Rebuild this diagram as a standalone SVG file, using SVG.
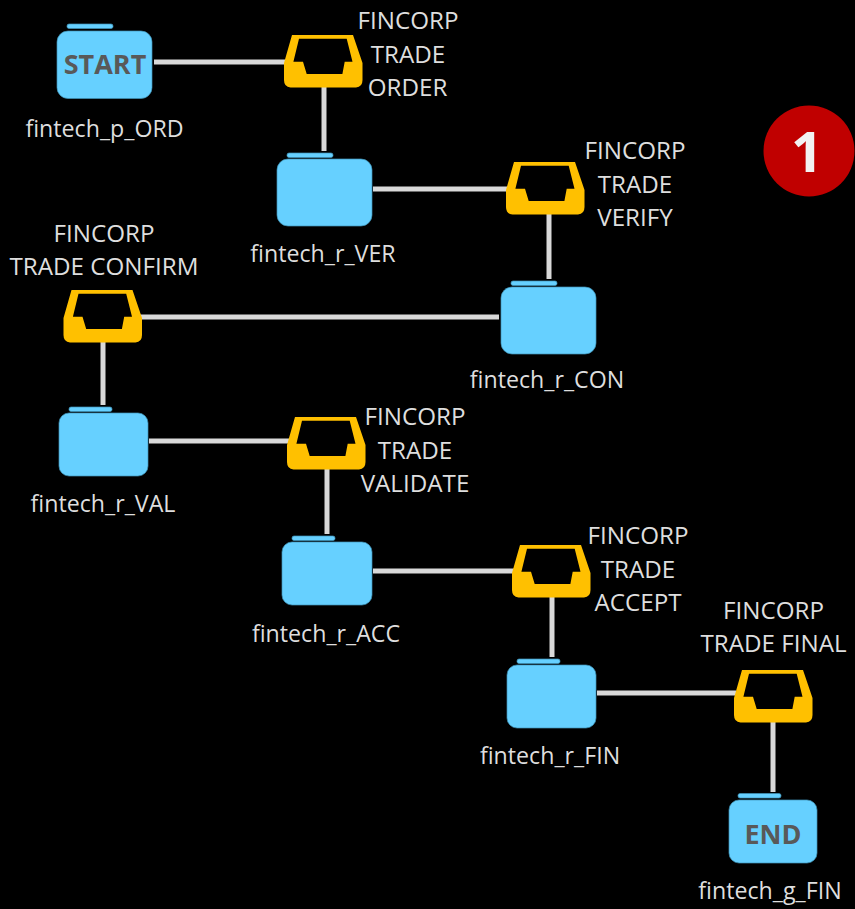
<svg xmlns="http://www.w3.org/2000/svg" width="855" height="909" viewBox="0 0 855 909">
<style>
text{font-family:"Open Sans","Noto Sans","Liberation Sans",sans-serif;text-anchor:middle}
.l{font-size:23.2px;fill:#dedede}
.u{font-size:24.2px;fill:#dedede}
.f{fill:#66d0ff;stroke:#3f93b8;stroke-width:.7}
.c line{stroke:#d9d9d9;stroke-width:5}
.t{font-size:27px;font-weight:700;fill:#595959}
</style>
<defs>
<path id="tray" fill="#ffc000" fill-rule="evenodd" d="M8 0H69L78.500 28V45Q78.500 52 72 52.500H6.500Q0 52 0 45V28ZM15 3.700L9.400 26.800H19L22.700 39H58.400L60.700 26.800H68.500L62.700 3.700Z"/>
</defs>
<rect width="855" height="909" fill="#000"/>
<g class="c" id="connectors">
<line x1="154" y1="62" x2="286" y2="62"/><line x1="324" y1="86" x2="324" y2="151"/>
<line x1="373" y1="189" x2="508" y2="189"/><line x1="549" y1="212" x2="549" y2="279"/>
<line x1="140" y1="317" x2="499" y2="317"/><line x1="103" y1="340" x2="103" y2="405"/>
<line x1="149" y1="441" x2="289" y2="441"/><line x1="327" y1="467" x2="327" y2="534"/>
<line x1="373" y1="571" x2="514" y2="571"/><line x1="552" y1="596" x2="552" y2="657"/>
<line x1="597" y1="693" x2="736" y2="693"/><line x1="773" y1="720" x2="773" y2="792"/>
</g>
<g id="start"><rect class="f" x="67" y="24" width="46" height="4.500" rx="2"/><rect class="f" x="57" y="31" width="95" height="67.500" rx="11"/><text class="t" x="105" y="74">START</text><text class="l" x="104.500" y="137">fintech_p_ORD</text></g>
<g id="tray-order"><use href="#tray" x="284" y="35"/><text class="u" x="408" y="29">FINCORP</text><text class="u" x="408" y="63">TRADE</text><text class="u" x="407.500" y="96">ORDER</text></g>
<g id="r-ver"><rect class="f" x="287" y="153" width="46" height="4.500" rx="2"/><rect class="f" x="277" y="159" width="95" height="67" rx="11"/><text class="l" x="323" y="262">fintech_r_VER</text></g>
<g id="tray-verify"><use href="#tray" x="506" y="162"/><text class="u" x="635" y="159">FINCORP</text><text class="u" x="635" y="193">TRADE</text><text class="u" x="635" y="226">VERIFY</text></g>
<g id="r-con"><rect class="f" x="511" y="281" width="46" height="4.500" rx="2"/><rect class="f" x="501" y="287" width="95" height="67" rx="11"/><text class="l" x="547" y="388">fintech_r_CON</text></g>
<g id="tray-confirm"><use href="#tray" x="63.500" y="290"/><text class="u" x="104" y="242">FINCORP</text><text class="u" x="104" y="275">TRADE CONFIRM</text></g>
<g id="r-val"><rect class="f" x="69" y="407" width="43" height="4.500" rx="2"/><rect class="f" x="59" y="413" width="89" height="63" rx="10"/><text class="l" x="103" y="512">fintech_r_VAL</text></g>
<g id="tray-validate"><use href="#tray" x="287" y="417"/><text class="u" x="415" y="425">FINCORP</text><text class="u" x="415" y="459">TRADE</text><text class="u" x="415" y="492">VALIDATE</text></g>
<g id="r-acc"><rect class="f" x="292" y="536" width="43" height="4.500" rx="2"/><rect class="f" x="282" y="542" width="90" height="63" rx="10"/><text class="l" x="326" y="642">fintech_r_ACC</text></g>
<g id="tray-accept"><use href="#tray" x="512" y="545"/><text class="u" x="638" y="544">FINCORP</text><text class="u" x="638" y="578">TRADE</text><text class="u" x="638" y="611">ACCEPT</text></g>
<g id="r-fin"><rect class="f" x="517" y="659" width="43" height="4.500" rx="2"/><rect class="f" x="507" y="665" width="89" height="63" rx="10"/><text class="l" x="550" y="764">fintech_r_FIN</text></g>
<g id="tray-final"><use href="#tray" x="734" y="670"/><text class="u" x="773.500" y="619">FINCORP</text><text class="u" x="773.500" y="652">TRADE FINAL</text></g>
<g id="end"><rect class="f" x="738" y="793.500" width="43" height="4.500" rx="2"/><rect class="f" x="729" y="800" width="88" height="63" rx="10"/><text class="t" x="773" y="844">END</text><text class="l" x="770" y="899">fintech_g_FIN</text></g>
<g id="badge"><circle cx="809" cy="151" r="45.500" fill="#c00000"/><text x="807" y="172" font-size="56" font-weight="700" fill="#f2f2f2">1</text></g>
</svg>
